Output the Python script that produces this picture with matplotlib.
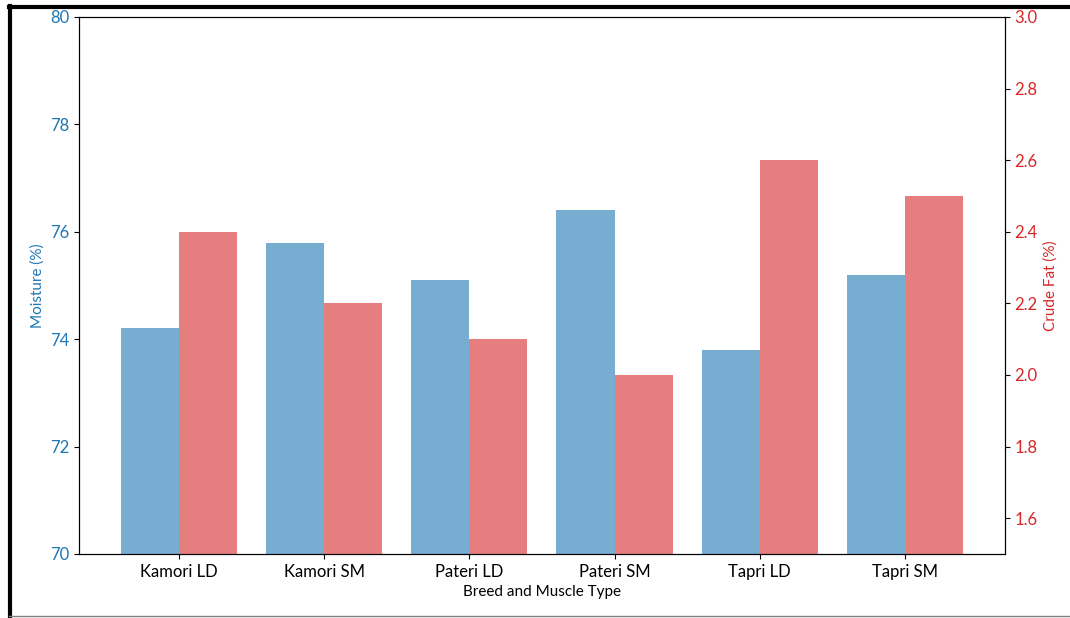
import numpy as np
import matplotlib
matplotlib.use('Agg')
import matplotlib.pyplot as plt
from matplotlib.lines import Line2D

plt.rcParams['font.family'] = ['Lato', 'DejaVu Sans']

categories = ['Kamori LD', 'Kamori SM', 'Pateri LD', 'Pateri SM', 'Tapri LD', 'Tapri SM']
moisture = [74.2, 75.8, 75.1, 76.4, 73.8, 75.2]
crude_fat = [2.4, 2.2, 2.1, 2.0, 2.6, 2.5]

x = np.arange(len(categories))
width = 0.4

fig = plt.figure(figsize=(10.7, 6.18), dpi=100)
ax1 = fig.add_axes([0.0738, 0.1036, 0.8654, 0.8689])
ax1.bar(x - width/2, moisture, width, color='tab:blue', alpha=0.6)
ax1.set_ylim(70, 80)
ax1.set_ylabel('Moisture (%)', color='tab:blue', fontsize=11)
ax1.tick_params(axis='y', labelcolor='tab:blue', labelsize=12)
ax1.set_xticks(x)
ax1.set_xticklabels(categories, fontsize=12)
ax1.set_xlabel('Breed and Muscle Type', fontsize=11)

ax2 = ax1.twinx()
ax2.bar(x + width/2, crude_fat, width, color='tab:red', alpha=0.6)
ax2.set_ylim(1.5, 3.0)
ax2.set_ylabel('Crude Fat (%)', color='tab:red', fontsize=11)
ax2.tick_params(axis='y', labelcolor='tab:red', labelsize=12)

# screenshot frame
fig.add_artist(Line2D([0.0095, 0.0095], [0.0, 0.99], color='black', lw=3, transform=fig.transFigure))
fig.add_artist(Line2D([0.008, 1.0], [0.988, 0.988], color='black', lw=3, transform=fig.transFigure))
fig.add_artist(Line2D([0.008, 1.0], [0.003, 0.003], color='gray', lw=1, transform=fig.transFigure))

fig.savefig('out.png', dpi=100)
